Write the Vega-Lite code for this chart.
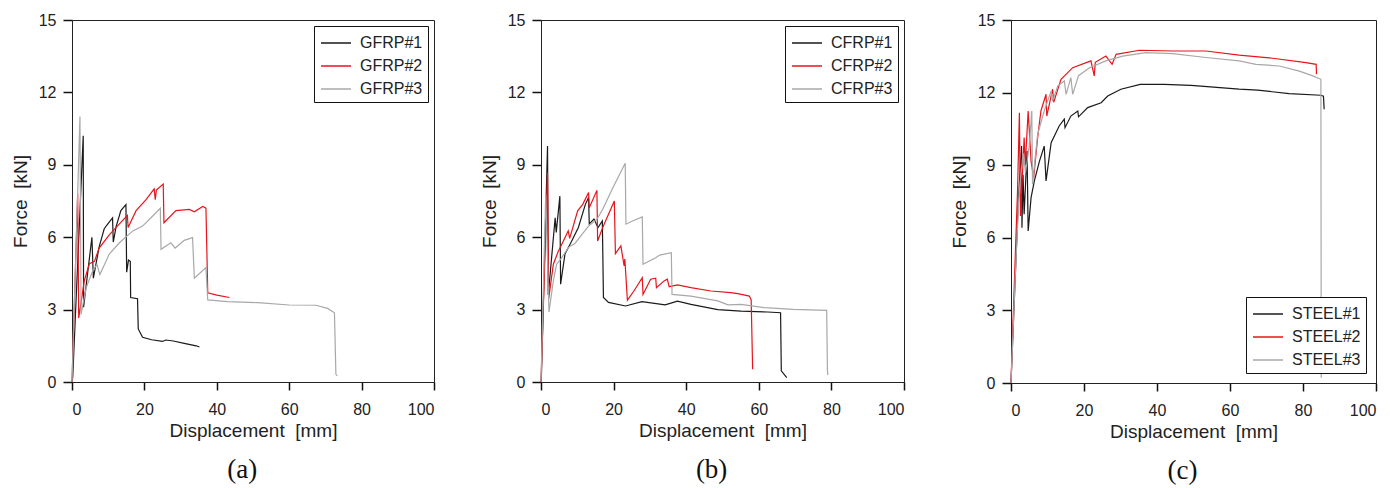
{
  "$schema": "https://vega.github.io/schema/vega-lite/v6.json",
  "padding": {"left": 10, "top": 11, "right": 5, "bottom": 2},
  "spacing": 43,
  "config": {
    "view": {"stroke": "#222", "strokeWidth": 1},
    "font": "Liberation Sans",
    "axis": {
      "domainColor": "#222",
      "labelColor": "#222",
      "titleColor": "#222",
      "labelFont": "Liberation Sans",
      "titleFont": "Liberation Sans",
      "labelFontSize": 16,
      "titleFontSize": 19,
      "titleFontWeight": "normal",
      "grid": false
    },
    "legend": {
      "labelFont": "Liberation Sans",
      "labelFontSize": 16,
      "labelColor": "#222",
      "title": null,
      "strokeColor": "#111",
      "fillColor": "white",
      "padding": 5,
      "symbolType": "M-1.3636,0L1.3636,0",
      "symbolSize": 484,
      "symbolStrokeWidth": 1.5,
      "symbolOffset": 5,
      "rowPadding": 3,
      "labelOffset": 12
    }
  },
  "datasets": {
    "gfrp": [
      {"s": "GFRP#1", "x": 0, "y": 0}, {"s": "GFRP#1", "x": 0.2, "y": 0.2}, {"s": "GFRP#1", "x": 3.1, "y": 10.2}, {"s": "GFRP#1", "x": 3.2, "y": 3.1},
      {"s": "GFRP#1", "x": 5.5, "y": 6.0}, {"s": "GFRP#1", "x": 5.9, "y": 4.3}, {"s": "GFRP#1", "x": 7.5, "y": 5.6}, {"s": "GFRP#1", "x": 8.9, "y": 6.35},
      {"s": "GFRP#1", "x": 9.9, "y": 6.55}, {"s": "GFRP#1", "x": 11.2, "y": 6.8}, {"s": "GFRP#1", "x": 11.4, "y": 5.8}, {"s": "GFRP#1", "x": 12.2, "y": 6.45},
      {"s": "GFRP#1", "x": 13.5, "y": 7.1}, {"s": "GFRP#1", "x": 14.9, "y": 7.35}, {"s": "GFRP#1", "x": 15.1, "y": 4.55}, {"s": "GFRP#1", "x": 15.6, "y": 5.05},
      {"s": "GFRP#1", "x": 16.1, "y": 5.0}, {"s": "GFRP#1", "x": 16.2, "y": 3.5}, {"s": "GFRP#1", "x": 18.1, "y": 3.45}, {"s": "GFRP#1", "x": 18.3, "y": 2.2},
      {"s": "GFRP#1", "x": 19.5, "y": 1.85}, {"s": "GFRP#1", "x": 22, "y": 1.75}, {"s": "GFRP#1", "x": 25, "y": 1.68}, {"s": "GFRP#1", "x": 25.9, "y": 1.74},
      {"s": "GFRP#1", "x": 28, "y": 1.7}, {"s": "GFRP#1", "x": 31, "y": 1.6}, {"s": "GFRP#1", "x": 34.3, "y": 1.5}, {"s": "GFRP#1", "x": 35.2, "y": 1.45},
      {"s": "GFRP#2", "x": 0, "y": 0}, {"s": "GFRP#2", "x": 1.57, "y": 7.8}, {"s": "GFRP#2", "x": 1.85, "y": 2.65}, {"s": "GFRP#2", "x": 3.4, "y": 4.2},
      {"s": "GFRP#2", "x": 4.8, "y": 4.9}, {"s": "GFRP#2", "x": 6.2, "y": 5.0}, {"s": "GFRP#2", "x": 7.5, "y": 5.55}, {"s": "GFRP#2", "x": 10.3, "y": 6.1},
      {"s": "GFRP#2", "x": 13.1, "y": 6.55}, {"s": "GFRP#2", "x": 15.3, "y": 6.9}, {"s": "GFRP#2", "x": 15.5, "y": 6.4}, {"s": "GFRP#2", "x": 17.7, "y": 7.1},
      {"s": "GFRP#2", "x": 20.4, "y": 7.55}, {"s": "GFRP#2", "x": 22.7, "y": 8.0}, {"s": "GFRP#2", "x": 23.0, "y": 7.55}, {"s": "GFRP#2", "x": 23.3, "y": 7.95},
      {"s": "GFRP#2", "x": 25.2, "y": 8.2}, {"s": "GFRP#2", "x": 25.4, "y": 6.6}, {"s": "GFRP#2", "x": 28.7, "y": 7.1}, {"s": "GFRP#2", "x": 32.4, "y": 7.15},
      {"s": "GFRP#2", "x": 33.8, "y": 7.05}, {"s": "GFRP#2", "x": 36.1, "y": 7.27}, {"s": "GFRP#2", "x": 37.0, "y": 7.2}, {"s": "GFRP#2", "x": 37.5, "y": 3.7},
      {"s": "GFRP#2", "x": 40, "y": 3.6}, {"s": "GFRP#2", "x": 43.5, "y": 3.5},
      {"s": "GFRP#3", "x": 0, "y": 0}, {"s": "GFRP#3", "x": 2.2, "y": 11.0}, {"s": "GFRP#3", "x": 2.5, "y": 2.8}, {"s": "GFRP#3", "x": 3.9, "y": 3.9},
      {"s": "GFRP#3", "x": 5.7, "y": 4.6}, {"s": "GFRP#3", "x": 6.9, "y": 4.87}, {"s": "GFRP#3", "x": 7.7, "y": 4.45}, {"s": "GFRP#3", "x": 10.3, "y": 5.3},
      {"s": "GFRP#3", "x": 13.1, "y": 5.77}, {"s": "GFRP#3", "x": 16.8, "y": 6.26}, {"s": "GFRP#3", "x": 19.5, "y": 6.46}, {"s": "GFRP#3", "x": 22.3, "y": 6.88},
      {"s": "GFRP#3", "x": 24.4, "y": 7.2}, {"s": "GFRP#3", "x": 24.6, "y": 5.5}, {"s": "GFRP#3", "x": 27.3, "y": 5.77}, {"s": "GFRP#3", "x": 28.5, "y": 5.55},
      {"s": "GFRP#3", "x": 31, "y": 5.87}, {"s": "GFRP#3", "x": 33.3, "y": 5.98}, {"s": "GFRP#3", "x": 33.8, "y": 4.3}, {"s": "GFRP#3", "x": 37, "y": 4.74},
      {"s": "GFRP#3", "x": 37.5, "y": 3.4}, {"s": "GFRP#3", "x": 43, "y": 3.33}, {"s": "GFRP#3", "x": 51.3, "y": 3.29}, {"s": "GFRP#3", "x": 60, "y": 3.19},
      {"s": "GFRP#3", "x": 67.4, "y": 3.18}, {"s": "GFRP#3", "x": 70.6, "y": 3.05}, {"s": "GFRP#3", "x": 72.5, "y": 2.87}, {"s": "GFRP#3", "x": 72.9, "y": 0.32},
      {"s": "GFRP#3", "x": 73.3, "y": 0.25}
    ],
    "cfrp": [
      {"s": "CFRP#1", "x": 0, "y": 0}, {"s": "CFRP#1", "x": 0.1, "y": 0.15}, {"s": "CFRP#1", "x": 1.8, "y": 9.78}, {"s": "CFRP#1", "x": 2.0, "y": 3.6},
      {"s": "CFRP#1", "x": 3.9, "y": 6.8}, {"s": "CFRP#1", "x": 4.2, "y": 6.2}, {"s": "CFRP#1", "x": 5.2, "y": 7.7}, {"s": "CFRP#1", "x": 5.4, "y": 4.05},
      {"s": "CFRP#1", "x": 6.6, "y": 5.3}, {"s": "CFRP#1", "x": 8.5, "y": 5.85}, {"s": "CFRP#1", "x": 10.3, "y": 6.4}, {"s": "CFRP#1", "x": 12.2, "y": 7.35},
      {"s": "CFRP#1", "x": 13.1, "y": 7.65}, {"s": "CFRP#1", "x": 13.3, "y": 6.55}, {"s": "CFRP#1", "x": 14.6, "y": 6.75}, {"s": "CFRP#1", "x": 15.7, "y": 6.4},
      {"s": "CFRP#1", "x": 16.9, "y": 6.67}, {"s": "CFRP#1", "x": 17.2, "y": 3.5}, {"s": "CFRP#1", "x": 18.6, "y": 3.3}, {"s": "CFRP#1", "x": 23.3, "y": 3.15},
      {"s": "CFRP#1", "x": 27.8, "y": 3.33}, {"s": "CFRP#1", "x": 34.2, "y": 3.2}, {"s": "CFRP#1", "x": 37.6, "y": 3.35}, {"s": "CFRP#1", "x": 41.3, "y": 3.22},
      {"s": "CFRP#1", "x": 48.7, "y": 3.0}, {"s": "CFRP#1", "x": 55.1, "y": 2.94}, {"s": "CFRP#1", "x": 62.4, "y": 2.9}, {"s": "CFRP#1", "x": 66, "y": 2.87},
      {"s": "CFRP#1", "x": 66.2, "y": 0.46}, {"s": "CFRP#1", "x": 67.7, "y": 0.18},
      {"s": "CFRP#2", "x": 0, "y": 0}, {"s": "CFRP#2", "x": 1.8, "y": 8.67}, {"s": "CFRP#2", "x": 2.1, "y": 3.43}, {"s": "CFRP#2", "x": 3.4, "y": 4.88},
      {"s": "CFRP#2", "x": 4.8, "y": 5.43}, {"s": "CFRP#2", "x": 5.7, "y": 5.7}, {"s": "CFRP#2", "x": 7.5, "y": 6.26}, {"s": "CFRP#2", "x": 7.9, "y": 5.95},
      {"s": "CFRP#2", "x": 10.1, "y": 7.09}, {"s": "CFRP#2", "x": 11.5, "y": 7.36}, {"s": "CFRP#2", "x": 13.1, "y": 7.85}, {"s": "CFRP#2", "x": 13.3, "y": 7.22},
      {"s": "CFRP#2", "x": 15.4, "y": 7.94}, {"s": "CFRP#2", "x": 15.6, "y": 5.84}, {"s": "CFRP#2", "x": 17.0, "y": 6.4}, {"s": "CFRP#2", "x": 20.2, "y": 7.5},
      {"s": "CFRP#2", "x": 20.5, "y": 5.32}, {"s": "CFRP#2", "x": 22, "y": 5.64}, {"s": "CFRP#2", "x": 22.9, "y": 4.81}, {"s": "CFRP#2", "x": 23.1, "y": 5.1},
      {"s": "CFRP#2", "x": 23.8, "y": 3.39}, {"s": "CFRP#2", "x": 25.6, "y": 3.77}, {"s": "CFRP#2", "x": 27.9, "y": 4.32}, {"s": "CFRP#2", "x": 28.1, "y": 3.63},
      {"s": "CFRP#2", "x": 30.2, "y": 4.26}, {"s": "CFRP#2", "x": 31.6, "y": 4.3}, {"s": "CFRP#2", "x": 31.8, "y": 3.91}, {"s": "CFRP#2", "x": 33.9, "y": 4.19},
      {"s": "CFRP#2", "x": 34.8, "y": 4.26}, {"s": "CFRP#2", "x": 35.3, "y": 3.95}, {"s": "CFRP#2", "x": 37.6, "y": 4.02}, {"s": "CFRP#2", "x": 41.3, "y": 3.91},
      {"s": "CFRP#2", "x": 46.8, "y": 3.77}, {"s": "CFRP#2", "x": 52.3, "y": 3.7}, {"s": "CFRP#2", "x": 54.2, "y": 3.66}, {"s": "CFRP#2", "x": 57.4, "y": 3.56},
      {"s": "CFRP#2", "x": 57.9, "y": 3.4}, {"s": "CFRP#2", "x": 58.3, "y": 0.53},
      {"s": "CFRP#3", "x": 0, "y": 0}, {"s": "CFRP#3", "x": 1.3, "y": 7.78}, {"s": "CFRP#3", "x": 2.2, "y": 2.9}, {"s": "CFRP#3", "x": 3.4, "y": 4.19},
      {"s": "CFRP#3", "x": 4.3, "y": 4.88}, {"s": "CFRP#3", "x": 5.5, "y": 5.1}, {"s": "CFRP#3", "x": 7.5, "y": 5.57}, {"s": "CFRP#3", "x": 9.4, "y": 5.75},
      {"s": "CFRP#3", "x": 11.3, "y": 6.12}, {"s": "CFRP#3", "x": 13.1, "y": 6.46}, {"s": "CFRP#3", "x": 15.4, "y": 6.74}, {"s": "CFRP#3", "x": 17, "y": 7.16},
      {"s": "CFRP#3", "x": 19.8, "y": 8.05}, {"s": "CFRP#3", "x": 23.2, "y": 9.06}, {"s": "CFRP#3", "x": 23.4, "y": 6.54}, {"s": "CFRP#3", "x": 25.2, "y": 6.67},
      {"s": "CFRP#3", "x": 27.9, "y": 6.84}, {"s": "CFRP#3", "x": 28.1, "y": 4.88}, {"s": "CFRP#3", "x": 31.6, "y": 5.15}, {"s": "CFRP#3", "x": 32.7, "y": 5.26},
      {"s": "CFRP#3", "x": 35.9, "y": 5.36}, {"s": "CFRP#3", "x": 36.1, "y": 3.63}, {"s": "CFRP#3", "x": 41.3, "y": 3.56}, {"s": "CFRP#3", "x": 48.7, "y": 3.36},
      {"s": "CFRP#3", "x": 51.5, "y": 3.2}, {"s": "CFRP#3", "x": 55.1, "y": 3.22}, {"s": "CFRP#3", "x": 61.6, "y": 3.08}, {"s": "CFRP#3", "x": 69.5, "y": 3.01},
      {"s": "CFRP#3", "x": 78.7, "y": 2.97}, {"s": "CFRP#3", "x": 78.9, "y": 0.53}, {"s": "CFRP#3", "x": 79.0, "y": 0.29}
    ],
    "steel": [
      {"s": "STEEL#1", "x": 0, "y": 0}, {"s": "STEEL#1", "x": 1.2, "y": 4.5}, {"s": "STEEL#1", "x": 2.0, "y": 7.5}, {"s": "STEEL#1", "x": 2.9, "y": 9.79},
      {"s": "STEEL#1", "x": 3.0, "y": 6.42}, {"s": "STEEL#1", "x": 3.3, "y": 8.6}, {"s": "STEEL#1", "x": 3.6, "y": 6.97}, {"s": "STEEL#1", "x": 4.4, "y": 9.59},
      {"s": "STEEL#1", "x": 4.7, "y": 6.28}, {"s": "STEEL#1", "x": 5.5, "y": 7.66}, {"s": "STEEL#1", "x": 6.4, "y": 8.35}, {"s": "STEEL#1", "x": 7.8, "y": 9.17},
      {"s": "STEEL#1", "x": 9.1, "y": 9.79}, {"s": "STEEL#1", "x": 9.6, "y": 8.35}, {"s": "STEEL#1", "x": 11, "y": 9.93}, {"s": "STEEL#1", "x": 13.2, "y": 10.62},
      {"s": "STEEL#1", "x": 14.6, "y": 10.9}, {"s": "STEEL#1", "x": 14.8, "y": 10.55}, {"s": "STEEL#1", "x": 16.4, "y": 11.03}, {"s": "STEEL#1", "x": 18.3, "y": 11.24},
      {"s": "STEEL#1", "x": 18.5, "y": 11.0}, {"s": "STEEL#1", "x": 21, "y": 11.38}, {"s": "STEEL#1", "x": 24.7, "y": 11.58}, {"s": "STEEL#1", "x": 26.5, "y": 11.86},
      {"s": "STEEL#1", "x": 30.1, "y": 12.14}, {"s": "STEEL#1", "x": 35.4, "y": 12.34}, {"s": "STEEL#1", "x": 42, "y": 12.34}, {"s": "STEEL#1", "x": 49.3, "y": 12.3},
      {"s": "STEEL#1", "x": 52, "y": 12.27}, {"s": "STEEL#1", "x": 62.5, "y": 12.14}, {"s": "STEEL#1", "x": 67.6, "y": 12.1}, {"s": "STEEL#1", "x": 76.2, "y": 11.96},
      {"s": "STEEL#1", "x": 84.9, "y": 11.89}, {"s": "STEEL#1", "x": 85.6, "y": 11.85}, {"s": "STEEL#1", "x": 85.8, "y": 11.31},
      {"s": "STEEL#2", "x": 0, "y": 0}, {"s": "STEEL#2", "x": 1.0, "y": 4.5}, {"s": "STEEL#2", "x": 1.8, "y": 8}, {"s": "STEEL#2", "x": 2.3, "y": 11.17},
      {"s": "STEEL#2", "x": 2.6, "y": 6.9}, {"s": "STEEL#2", "x": 3.6, "y": 10.14}, {"s": "STEEL#2", "x": 3.9, "y": 9.0}, {"s": "STEEL#2", "x": 4.7, "y": 11.24},
      {"s": "STEEL#2", "x": 5.5, "y": 9.17}, {"s": "STEEL#2", "x": 6.2, "y": 8.48}, {"s": "STEEL#2", "x": 7.3, "y": 10.14}, {"s": "STEEL#2", "x": 8.2, "y": 11.24},
      {"s": "STEEL#2", "x": 9.6, "y": 11.93}, {"s": "STEEL#2", "x": 9.8, "y": 11.03}, {"s": "STEEL#2", "x": 11.4, "y": 12.14}, {"s": "STEEL#2", "x": 11.7, "y": 11.6},
      {"s": "STEEL#2", "x": 13.7, "y": 12.55}, {"s": "STEEL#2", "x": 16.9, "y": 13.03}, {"s": "STEEL#2", "x": 21.9, "y": 13.31}, {"s": "STEEL#2", "x": 22.8, "y": 12.69},
      {"s": "STEEL#2", "x": 23.1, "y": 13.25}, {"s": "STEEL#2", "x": 26, "y": 13.51}, {"s": "STEEL#2", "x": 27.7, "y": 13.17}, {"s": "STEEL#2", "x": 28.8, "y": 13.58},
      {"s": "STEEL#2", "x": 35.2, "y": 13.75}, {"s": "STEEL#2", "x": 44.3, "y": 13.72}, {"s": "STEEL#2", "x": 53.4, "y": 13.72}, {"s": "STEEL#2", "x": 62.5, "y": 13.55},
      {"s": "STEEL#2", "x": 71.7, "y": 13.42}, {"s": "STEEL#2", "x": 80.8, "y": 13.24}, {"s": "STEEL#2", "x": 83.6, "y": 13.17}, {"s": "STEEL#2", "x": 83.7, "y": 12.76},
      {"s": "STEEL#3", "x": 0, "y": 0}, {"s": "STEEL#3", "x": 1.2, "y": 4.5}, {"s": "STEEL#3", "x": 2.2, "y": 7.8}, {"s": "STEEL#3", "x": 3.3, "y": 9.5},
      {"s": "STEEL#3", "x": 4.0, "y": 8.7}, {"s": "STEEL#3", "x": 5.0, "y": 9.8}, {"s": "STEEL#3", "x": 5.7, "y": 11.24}, {"s": "STEEL#3", "x": 5.9, "y": 8.21},
      {"s": "STEEL#3", "x": 7.3, "y": 10.28}, {"s": "STEEL#3", "x": 9.1, "y": 11.24}, {"s": "STEEL#3", "x": 11, "y": 12.07}, {"s": "STEEL#3", "x": 11.4, "y": 11.65},
      {"s": "STEEL#3", "x": 12.8, "y": 12.27}, {"s": "STEEL#3", "x": 14.6, "y": 12.48}, {"s": "STEEL#3", "x": 15.1, "y": 11.93}, {"s": "STEEL#3", "x": 16.4, "y": 12.62},
      {"s": "STEEL#3", "x": 16.9, "y": 11.93}, {"s": "STEEL#3", "x": 18.5, "y": 12.7}, {"s": "STEEL#3", "x": 21.5, "y": 13.03}, {"s": "STEEL#3", "x": 26, "y": 13.31},
      {"s": "STEEL#3", "x": 30.6, "y": 13.51}, {"s": "STEEL#3", "x": 37, "y": 13.65}, {"s": "STEEL#3", "x": 44.3, "y": 13.61}, {"s": "STEEL#3", "x": 53.4, "y": 13.45},
      {"s": "STEEL#3", "x": 62.5, "y": 13.31}, {"s": "STEEL#3", "x": 67.1, "y": 13.17}, {"s": "STEEL#3", "x": 73.5, "y": 13.1}, {"s": "STEEL#3", "x": 79, "y": 12.89},
      {"s": "STEEL#3", "x": 82.7, "y": 12.69}, {"s": "STEEL#3", "x": 84.9, "y": 12.55}, {"s": "STEEL#3", "x": 85.0, "y": 0.22}
    ]
  },
  "resolve": {"scale": {"color": "independent"}, "legend": {"color": "independent"}},
  "hconcat": [
    {
      "width": 362, "height": 362,
      "layer": [
        {
          "data": {"name": "gfrp"},
          "mark": {"type": "line", "strokeWidth": 1.2},
          "encoding": {
            "x": {"field": "x", "type": "quantitative", "scale": {"domain": [0, 100], "nice": false},
              "axis": {"title": "Displacement\u00a0 [mm]", "values": [0,10,20,30,40,50,60,70,80,90,100], "labelExpr": "datum.value % 20 === 0 ? datum.label : ''",
                "tickColor": "#111", "tickWidth": 1.5, "tickSize": 8, "labelPadding": 11, "titlePadding": 4}},
            "y": {"field": "y", "type": "quantitative", "scale": {"domain": [0, 15], "nice": false},
              "axis": {"title": "Force\u00a0 [kN]", "values": [0,1.5,3,4.5,6,7.5,9,10.5,12,13.5,15], "labelExpr": "datum.value % 3 === 0 ? datum.label : ''",
                "tickColor": "#111", "tickWidth": 1.5, "tickSize": 9, "labelPadding": 7, "titlePadding": 8}},
            "color": {"field": "s", "type": "nominal", "scale": {"range": ["#1a1a1a", "#e8141c", "#a8a8a8"]},
              "legend": {"orient": "top-right", "offset": 6}}
          }
        },
        {
          "data": {"values": [{"cap": "(a)"}]},
          "mark": {"type": "text", "font": "Liberation Serif", "fontSize": 27, "color": "#111", "align": "center", "baseline": "middle"},
          "encoding": {"text": {"field": "cap"}, "x": {"datum": 47}, "y": {"datum": -3.65}}
        }
      ]
    },
    {
      "width": 363, "height": 362,
      "layer": [
        {
          "data": {"name": "cfrp"},
          "mark": {"type": "line", "strokeWidth": 1.2},
          "encoding": {
            "x": {"field": "x", "type": "quantitative", "scale": {"domain": [0, 100], "nice": false},
              "axis": {"title": "Displacement\u00a0 [mm]", "values": [0,10,20,30,40,50,60,70,80,90,100], "labelExpr": "datum.value % 20 === 0 ? datum.label : ''",
                "tickColor": "#111", "tickWidth": 1.5, "tickSize": 8, "labelPadding": 11, "titlePadding": 4}},
            "y": {"field": "y", "type": "quantitative", "scale": {"domain": [0, 15], "nice": false},
              "axis": {"title": "Force\u00a0 [kN]", "values": [0,1.5,3,4.5,6,7.5,9,10.5,12,13.5,15], "labelExpr": "datum.value % 3 === 0 ? datum.label : ''",
                "tickColor": "#111", "tickWidth": 1.5, "tickSize": 9, "labelPadding": 7, "titlePadding": 8}},
            "color": {"field": "s", "type": "nominal", "scale": {"range": ["#1a1a1a", "#e8141c", "#a8a8a8"]},
              "legend": {"orient": "top-right", "offset": 6}}
          }
        },
        {
          "data": {"values": [{"cap": "(b)"}]},
          "mark": {"type": "text", "font": "Liberation Serif", "fontSize": 27, "color": "#111", "align": "center", "baseline": "middle"},
          "encoding": {"text": {"field": "cap"}, "x": {"datum": 47}, "y": {"datum": -3.65}}
        }
      ]
    },
    {
      "width": 365, "height": 363,
      "layer": [
        {
          "data": {"name": "steel"},
          "mark": {"type": "line", "strokeWidth": 1.2},
          "encoding": {
            "x": {"field": "x", "type": "quantitative", "scale": {"domain": [0, 100], "nice": false},
              "axis": {"title": "Displacement\u00a0 [mm]", "values": [0,10,20,30,40,50,60,70,80,90,100], "labelExpr": "datum.value % 20 === 0 ? datum.label : ''",
                "tickColor": "#111", "tickWidth": 1.5, "tickSize": 8, "labelPadding": 11, "titlePadding": 4}},
            "y": {"field": "y", "type": "quantitative", "scale": {"domain": [0, 15], "nice": false},
              "axis": {"title": "Force\u00a0 [kN]", "values": [0,1.5,3,4.5,6,7.5,9,10.5,12,13.5,15], "labelExpr": "datum.value % 3 === 0 ? datum.label : ''",
                "tickColor": "#111", "tickWidth": 1.5, "tickSize": 9, "labelPadding": 7, "titlePadding": 8}},
            "color": {"field": "s", "type": "nominal", "scale": {"range": ["#1a1a1a", "#e8141c", "#a8a8a8"]},
              "legend": {"orient": "bottom-right", "offset": 10}}
          }
        },
        {
          "data": {"values": [{"cap": "(c)"}]},
          "mark": {"type": "text", "font": "Liberation Serif", "fontSize": 27, "color": "#111", "align": "center", "baseline": "middle"},
          "encoding": {"text": {"field": "cap"}, "x": {"datum": 47}, "y": {"datum": -3.65}}
        }
      ]
    }
  ]
}
